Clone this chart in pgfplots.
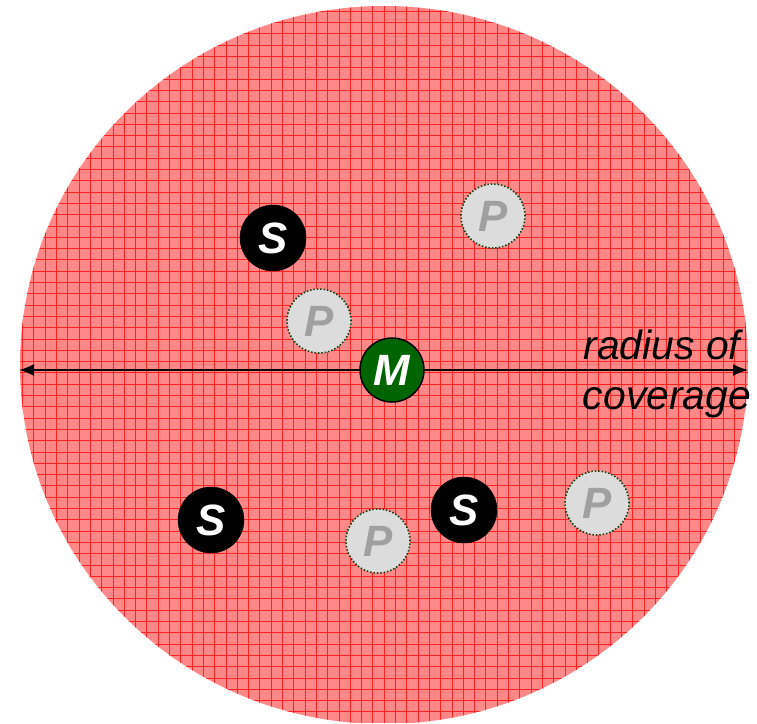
\documentclass[border=0pt]{standalone}
\usepackage{pgfplots}
\pgfplotsset{compat=1.18}
\usepackage{pgfplotstable}
\usepackage{fontspec}
\setmainfont{Liberation Sans}
\usetikzlibrary{arrows.meta}
\definecolor{bg}{HTML}{FF8888}
\definecolor{gridred}{HTML}{FF2222}
\definecolor{pfill}{HTML}{DCDCDC}
\definecolor{ptext}{HTML}{A0A0A0}
\definecolor{mgreen}{HTML}{006400}
\definecolor{dotgreen}{HTML}{144014}
\pgfplotstableread{
x y label
273 238 S
211 520 S
464 510 S
}\stable
\pgfplotstableread{
x y label
493 216 P
319 321 P
378 541 P
597 503 P
}\ptable
\pgfplotstableread{
x y label
392 370 M
}\mtable
\begin{document}
\begin{tikzpicture}
\begin{axis}[width=757bp,height=723bp,scale only axis,
  xmin=0,xmax=757,ymin=0,ymax=723,y dir=reverse,hide axis,clip=false]
\path (axis cs:0,0) rectangle (axis cs:757,723);
\begin{scope}
\clip (axis cs:384,365) ellipse [x radius=364bp, y radius=359bp];
\fill[bg] (axis cs:0,0) rectangle (axis cs:757,723);
\draw[gridred, line width=1bp, step=11.3bp] (axis cs:0,0) grid (axis cs:757,723);
\end{scope}
\addplot[black, line width=1.5bp, -{Latex[length=15bp,width=12bp]}] coordinates {(392,370) (748,370)};
\addplot[black, line width=1.5bp, -{Latex[length=15bp,width=12bp]}] coordinates {(392,370) (19,370)};
\addplot[only marks, mark=*, mark size=33bp, mark options={fill=black, draw=black},
  nodes near coords, point meta=explicit symbolic, nodes near coords align={center},
  every node near coord/.append style={font=\fontsize{44}{44}\selectfont\bfseries\itshape, text=white, anchor=center}]
  table[x=x,y=y,meta=label] {\stable};
\addplot[only marks, mark=*, mark size=32bp, mark options={fill=pfill, draw=dotgreen, line width=1.6bp, dash pattern=on 1.5bp off 1.9bp},
  nodes near coords, point meta=explicit symbolic, nodes near coords align={center},
  every node near coord/.append style={font=\fontsize{44}{44}\selectfont\bfseries\itshape, text=ptext, anchor=center}]
  table[x=x,y=y,meta=label] {\ptable};
\addplot[only marks, mark=*, mark size=32bp, mark options={fill=mgreen, draw=black, line width=1.5bp},
  nodes near coords, point meta=explicit symbolic, nodes near coords align={center},
  every node near coord/.append style={font=\fontsize{44}{44}\selectfont\bfseries\itshape, text=white, anchor=center}]
  table[x=x,y=y,meta=label] {\mtable};
\node[anchor=base, font=\fontsize{41}{41}\selectfont\itshape, inner sep=0pt] at (axis cs:662,359) {radius of};
\node[anchor=base, font=\fontsize{41}{41}\selectfont\itshape, inner sep=0pt] at (axis cs:667,409) {coverage};
\end{axis}
\end{tikzpicture}
\end{document}
